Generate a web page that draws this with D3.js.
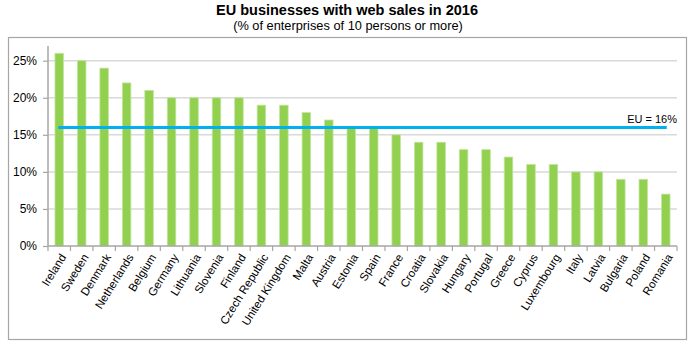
<!DOCTYPE html>
<html><head><meta charset="utf-8">
<script src="https://cdn.jsdelivr.net/npm/d3@7"></script>
<style>
body{margin:0;background:#fff;}
svg{display:block;font-family:"Liberation Sans",Arial,sans-serif;}
</style></head>
<body>
<script>
const countries = ["Ireland","Sweden","Denmark","Netherlands","Belgium","Germany","Lithuania","Slovenia","Finland","Czech Republic","United Kingdom","Malta","Austria","Estonia","Spain","France","Croatia","Slovakia","Hungary","Portugal","Greece","Cyprus","Luxembourg","Italy","Latvia","Bulgaria","Poland","Romania"];
const values = [26,25,24,22,21,20,20,20,20,19,19,18,17,16,16,15,14,14,13,13,12,11,11,10,10,9,9,7];
const euAverage = 16;
const yTicks = [0,5,10,15,20,25];
const title = "EU businesses with web sales in 2016";
const subtitle = "(% of enterprises of 10 persons or more)";
const euLabel = "EU = 16%";

const W = 698, H = 348;
const svg = d3.select("body").append("svg").attr("width", W).attr("height", H);

svg.append("text").attr("x", 347).attr("y", 15).attr("text-anchor","middle")
  .attr("font-size", 14.5).attr("font-weight","bold").attr("fill","#000").text(title);
svg.append("text").attr("x", 348).attr("y", 30).attr("text-anchor","middle")
  .attr("font-size", 12.8).attr("fill","#000").text(subtitle);

svg.append("rect").attr("x", 8.5).attr("y", 37.5).attr("width", 678).attr("height", 302)
  .attr("fill","none").attr("stroke","#a6a6a6").attr("stroke-width",1.2);

const x0 = 48, x1 = 677, y0 = 246;
const x = d3.scaleBand().domain(countries).range([x0, x1]).paddingInner(0.62).paddingOuter(0.31);
const y = d3.scaleLinear().domain([0, 25]).range([y0, 60.7]);

// gridlines
svg.append("g").selectAll("line").data(yTicks.filter(d=>d>0)).join("line")
  .attr("x1", x0).attr("x2", x1).attr("y1", d=>y(d)).attr("y2", d=>y(d))
  .attr("stroke","#d9d9d9").attr("stroke-width",1.5);

// y axis
const yAxis = d3.axisLeft(y).tickValues(yTicks).tickFormat(d=>d+"%").tickSize(5).tickPadding(6);
const gy = svg.append("g").attr("transform",`translate(${x0},0)`).call(yAxis);
gy.select(".domain").remove();
gy.selectAll(".tick line").attr("stroke","#a6a6a6").attr("stroke-width",1.2);
gy.selectAll(".tick text").attr("font-size",12).attr("fill","#000").attr("font-family","Liberation Sans, Arial, sans-serif");
svg.append("line").attr("x1",x0).attr("x2",x0).attr("y1",46).attr("y2",y0)
  .attr("stroke","#a6a6a6").attr("stroke-width",1.5);

// bars
svg.append("g").selectAll("rect").data(countries).join("rect")
  .attr("x", d=>x(d)).attr("width", x.bandwidth())
  .attr("y", (d,i)=>y(values[i])).attr("height", (d,i)=>y0 - y(values[i]))
  .attr("fill","#92d050").attr("stroke","#c4e59f").attr("stroke-width",0.8);

// x axis
const step = x.step();
svg.append("line").attr("x1",x0).attr("x2",x1).attr("y1",y0).attr("y2",y0)
  .attr("stroke","#a6a6a6").attr("stroke-width",1.5);
svg.append("g").selectAll("line").data(d3.range(countries.length+1)).join("line")
  .attr("x1", i=>x0 + i*step).attr("x2", i=>x0 + i*step).attr("y1", y0).attr("y2", y0+5)
  .attr("stroke","#a6a6a6").attr("stroke-width",1.2);

svg.append("g").selectAll("text").data(countries).join("text")
  .attr("transform", d=>`translate(${x(d)+x.bandwidth()/2+4},${y0+9}) rotate(-58)`)
  .attr("text-anchor","end").attr("dy","0.35em").attr("font-size",11.5).attr("fill","#000")
  .text(d=>d);

// EU line
const first = countries[0], last = countries[countries.length-1];
svg.append("line").attr("x1", x(first)+x.bandwidth()/2 - 1).attr("x2", x(last)+x.bandwidth()/2 + 1)
  .attr("y1", y(euAverage)).attr("y2", y(euAverage))
  .attr("stroke","#00b0f0").attr("stroke-width",3);
svg.append("text").attr("x", x1).attr("y", y(euAverage)-4).attr("text-anchor","end")
  .attr("font-size",11).attr("fill","#000").text(euLabel);
</script>
</body></html>
